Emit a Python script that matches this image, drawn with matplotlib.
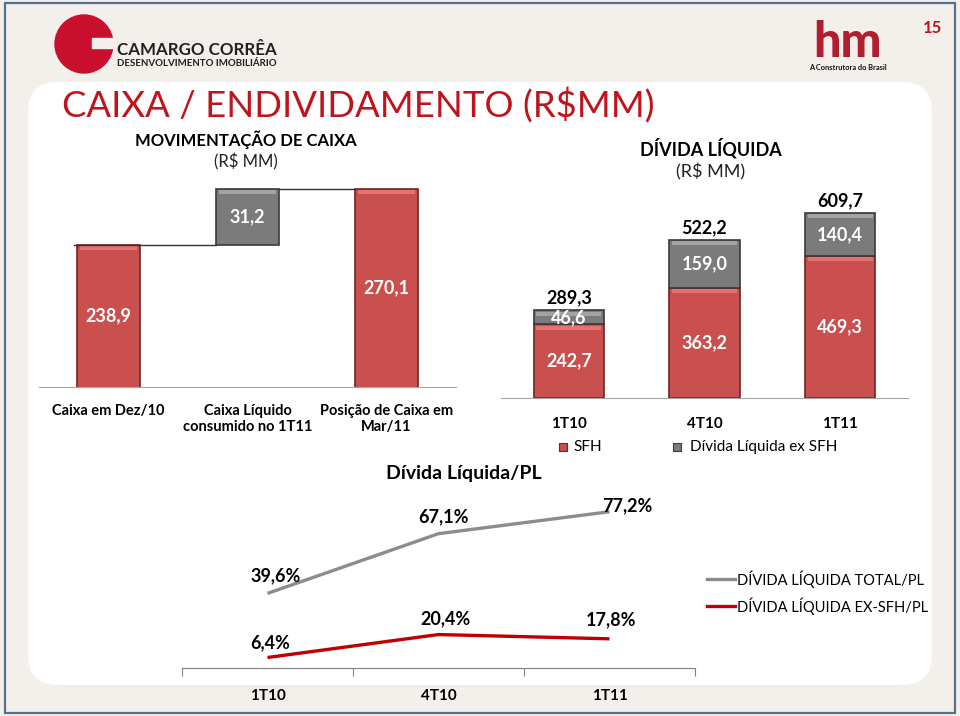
import numpy as np
import matplotlib.pyplot as plt
from matplotlib.patches import Rectangle, FancyBboxPatch, Circle

plt.rcParams['font.family'] = ['Lato', 'DejaVu Sans']

W, H = 960, 716

# movimentação de caixa (waterfall)
wf_labels = ["Caixa em Dez/10", "Caixa Líquido\nconsumido no 1T11", "Posição de Caixa em\nMar/11"]
wf_values = [238.9, 31.2, 270.1]
wf_text = ["238,9", "31,2", "270,1"]

# dívida líquida (stacked)
debt_quarters = ["1T10", "4T10", "1T11"]
sfh = [242.7, 363.2, 469.3]
ex_sfh = [46.6, 159.0, 140.4]
debt_total = [289.3, 522.2, 609.7]

# dívida líquida / PL
pl_quarters = ["1T10", "4T10", "1T11"]
pl_total = [39.6, 67.1, 77.2]
pl_ex_sfh = [6.4, 20.4, 17.8]

RED = '#c9504e'
RED_HI = '#e8726e'
RED_EDGE = '#6e2523'
GRAY = '#7b7b7b'
GRAY_HI = '#a3a3a3'
GRAY_EDGE = '#3a3a3a'
TITLE_RED = '#c0141c'
BEIGE = '#f3f0eb'


def fmt(v, suffix=''):
    return f"{v:.1f}".replace('.', ',') + suffix


fig = plt.figure(figsize=(9.6, 7.16), dpi=100)


def px_axes(x0, y0, x1, y1):
    ax = fig.add_axes([x0 / W, 1 - y1 / H, (x1 - x0) / W, (y1 - y0) / H])
    ax.patch.set_alpha(0)
    return ax


# background / slide
bg = fig.add_axes([0, 0, 1, 1], zorder=-1)
bg.set_xlim(0, W)
bg.set_ylim(H, 0)
bg.axis('off')
bg.add_patch(Rectangle((0, 0), W, H, color=BEIGE))
bg.add_patch(FancyBboxPatch((28, 82), 904, 603, boxstyle='round,pad=0,rounding_size=30',
                            fc='white', ec='none'))
bg.add_patch(Rectangle((5, 3), 950, 710, fill=False, ec='#56718e', lw=1.6))

# logos
bg.add_patch(Circle((84, 44), 29, color='#c8102e'))
bg.add_patch(Rectangle((92, 38), 24, 10, color=BEIGE))
bg.text(117, 50, "CAMARGO CORRÊA", fontsize=12.2, fontweight='bold', color='#231f20', va='center')
bg.text(117, 63, "DESENVOLVIMENTO IMOBILIÁRIO", fontsize=7, fontweight='bold', color='#231f20', va='center')
bg.text(848, 57, "hm", fontsize=35, fontweight='black', color='#b01e2f', ha='center', va='baseline')
bg.text(848, 67, "A Construtora do Brasil", fontsize=5.3, fontweight='bold', color='#111', ha='center', va='center')
bg.text(932, 28, "15", fontsize=12, fontweight='bold', color=TITLE_RED, ha='center', va='center')

# titles
bg.text(62, 105, "CAIXA / ENDIVIDAMENTO (R$MM)", fontsize=26.3, color=TITLE_RED, va='center')
bg.text(246, 140, "MOVIMENTAÇÃO DE CAIXA", fontsize=12, fontweight='bold', ha='center', va='center')
bg.text(246, 162, "(R$ MM)", fontsize=12, ha='center', va='center', color='#222')
bg.text(711, 148, "DÍVIDA LÍQUIDA", fontsize=13, fontweight='bold', ha='center', va='center')
bg.text(711, 172, "(R$ MM)", fontsize=13, ha='center', va='center', color='#222')
bg.text(464, 474, "Dívida Líquida/PL", fontsize=14, fontweight='bold', ha='center', va='center')


def bevel(ax, xs, tops, w, px_per_unit, color):
    # thin lighter strip just under the top of each bar segment
    h = 4 / px_per_unit
    ax.bar(xs, [h] * len(xs), width=w * 0.92, bottom=[t - h - 1.2 / px_per_unit for t in tops],
           color=color, linewidth=0)


# ---- waterfall
ax1 = px_axes(39, 180, 456, 387)
x = np.arange(len(wf_values))
w = 0.45
ymin = 159.8
wf_scale = 1.795
ax1.set_xlim(-0.5, 2.5)
ax1.set_ylim(ymin, ymin + 207 / wf_scale)
bottoms = [0, wf_values[0], 0]
colors = [RED, GRAY, RED]
edges = [RED_EDGE, GRAY_EDGE, RED_EDGE]
ax1.bar(x, wf_values, width=w, bottom=bottoms, color=colors, edgecolor=edges, linewidth=1.2)
tops = [bottoms[i] + wf_values[i] for i in range(3)]
bevel(ax1, [0, 2], [tops[0], tops[2]], w, wf_scale, RED_HI)
bevel(ax1, [1], [tops[1]], w, wf_scale, GRAY_HI)
for i in range(3):
    lo = max(bottoms[i], ymin)
    ax1.text(x[i], (lo + tops[i]) / 2, wf_text[i], color='white', fontsize=13, fontweight='bold',
             ha='center', va='center')
ax1.plot([-w / 2 - 0.02, 1 - w / 2], [wf_values[0]] * 2, color='#333333', lw=1)
ax1.plot([1 + w / 2, 2 - w / 2], [wf_values[0] + wf_values[1]] * 2, color='#333333', lw=1)
for s in ['top', 'left', 'right']:
    ax1.spines[s].set_visible(False)
ax1.spines['bottom'].set_color('#a6a6a6')
ax1.set_yticks([])
ax1.set_xticks(x)
ax1.set_xticklabels(wf_labels, fontsize=10.5, fontweight='bold')
ax1.tick_params(axis='x', length=0, pad=12)

# ---- stacked debt
ax2 = px_axes(501, 190, 908, 398)
x = np.arange(len(sfh))
w = 0.52
st_scale = 0.303
ax2.set_xlim(-0.5, 2.5)
ax2.set_ylim(0, 208 / st_scale)
ax2.bar(x, sfh, width=w, color=RED, edgecolor=RED_EDGE, linewidth=1.2)
ax2.bar(x, ex_sfh, width=w, bottom=sfh, color=GRAY, edgecolor=GRAY_EDGE, linewidth=1.2)
bevel(ax2, x, sfh, w, st_scale, RED_HI)
bevel(ax2, x, [sfh[i] + ex_sfh[i] for i in range(3)], w, st_scale, GRAY_HI)
for i in range(3):
    ax2.text(x[i], sfh[i] / 2, fmt(sfh[i]), color='white', fontsize=13, fontweight='bold',
             ha='center', va='center')
    ax2.text(x[i], sfh[i] + ex_sfh[i] / 2, fmt(ex_sfh[i]), color='white', fontsize=13,
             fontweight='bold', ha='center', va='center')
    ax2.annotate(fmt(debt_total[i]), (x[i], debt_total[i]), xytext=(0, 4),
                 textcoords='offset pixels', ha='center', va='bottom', fontsize=13,
                 fontweight='bold')
for s in ['top', 'left', 'right']:
    ax2.spines[s].set_visible(False)
ax2.spines['bottom'].set_color('#a6a6a6')
ax2.set_yticks([])
ax2.set_xticks(x)
ax2.set_xticklabels(debt_quarters, fontsize=11, fontweight='bold')
ax2.tick_params(axis='x', length=0, pad=14)

# legend for stacked
bg.add_patch(Rectangle((559, 443), 8, 8, fc=RED, ec=RED_EDGE, lw=0.8))
bg.text(573, 447, "SFH", fontsize=11, va='center')
bg.add_patch(Rectangle((673, 443), 8, 8, fc=GRAY, ec=GRAY_EDGE, lw=0.8))
bg.text(690, 447, "Dívida Líquida ex SFH", fontsize=11, va='center')

# ---- lines PL
ax3 = px_axes(182, 500, 695, 668)
ax3.set_xlim(-0.5, 2.5)
ax3.set_ylim(0, 168 / 1.64)
x = np.arange(len(pl_total))
ax3.plot(x, pl_ex_sfh, color='#c00000', lw=2.4, solid_capstyle='butt')
ax4 = ax3.twinx()
ax4.patch.set_alpha(0)
ax4.set_ylim(5.25, 82.6)
ax4.plot(x, pl_total, color='#8c8c8c', lw=2.4, solid_capstyle='butt')

red_off = [(3, 15), (7, 16), (2, 19)]
gray_off = [(8, 18), (5, 17), (18, 6)]
for i in range(3):
    ax3.annotate(fmt(pl_ex_sfh[i], '%'), (x[i], pl_ex_sfh[i]), xytext=red_off[i],
                 textcoords='offset pixels', ha='center', va='center', fontsize=13,
                 fontweight='bold')
    ax4.annotate(fmt(pl_total[i], '%'), (x[i], pl_total[i]), xytext=gray_off[i],
                 textcoords='offset pixels', ha='center', va='center', fontsize=13,
                 fontweight='bold')

for a in (ax3, ax4):
    for s in ['top', 'left', 'right']:
        a.spines[s].set_visible(False)
    a.set_yticks([])
ax4.spines['bottom'].set_visible(False)
ax3.spines['bottom'].set_color('#808080')
ax3.set_xticks([-0.5, 0.5, 1.5, 2.5])
ax3.set_xticklabels([])
ax3.set_xticks(x, minor=True)
ax3.set_xticklabels(pl_quarters, minor=True, fontsize=11, fontweight='bold')
ax3.tick_params(axis='x', which='major', length=6, color='#808080', direction='out')
ax3.tick_params(axis='x', which='minor', length=0, pad=15)

# legend for lines
bg.plot([707, 735], [579, 579], color='#8c8c8c', lw=2.4)
bg.text(737, 579, "DÍVIDA LÍQUIDA TOTAL/PL", fontsize=10.5, va='center')
bg.plot([707, 735], [606, 606], color='#c00000', lw=2.4)
bg.text(737, 606, "DÍVIDA LÍQUIDA EX-SFH/PL", fontsize=10.5, va='center')

fig.savefig("out.png", dpi=100)
